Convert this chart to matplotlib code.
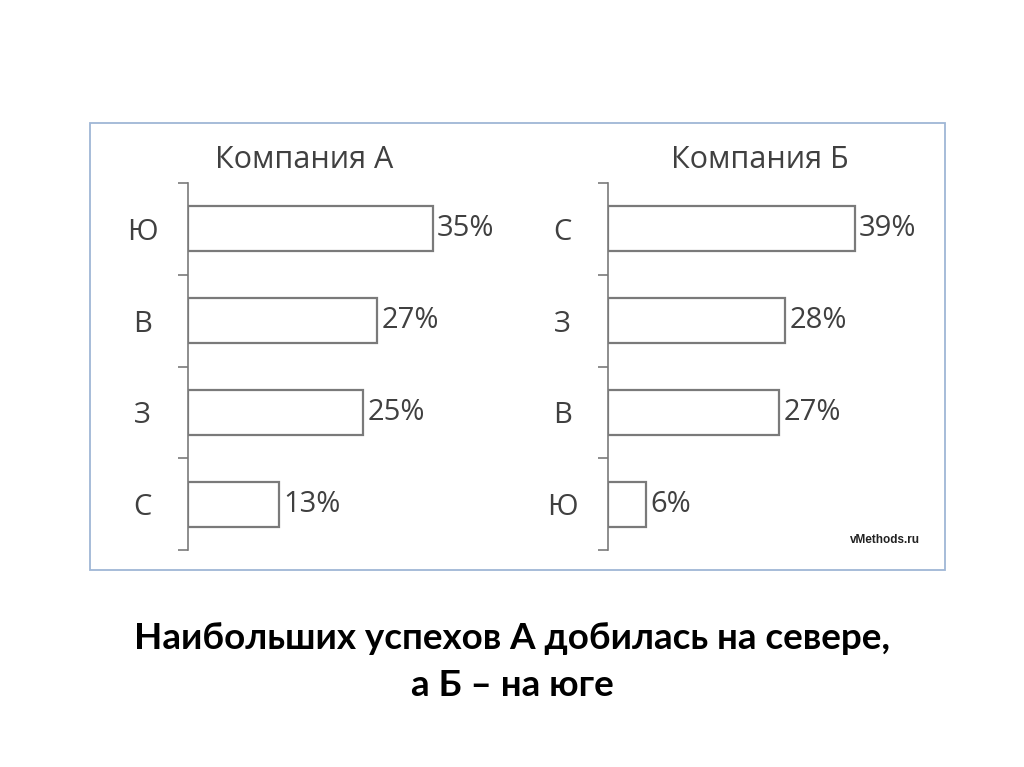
import numpy as np
import matplotlib as mpl
from matplotlib import pyplot as plt
from matplotlib.patches import Rectangle

mpl.rcParams['font.family'] = ['Open Sans', 'DejaVu Sans']

title_a = 'Компания А'
regions_a = ['Ю', 'В', 'З', 'С']
values_a = [35, 27, 25, 13]

title_b = 'Компания Б'
regions_b = ['С', 'З', 'В', 'Ю']
values_b = [39, 28, 27, 6]

caption = 'Наибольших успехов А добилась на севере,\nа Б – на юге'
source = 'vMethods.ru'

GRAY = '#7a7a7a'
TEXT = '#404040'

fig = plt.figure(figsize=(10.24, 7.67), dpi=100)
W, H = 1024, 767


def panel(left_px, width_px, xmax, labels, values, title, title_x):
	ax = fig.add_axes([left_px / W, 1 - 550 / H, width_px / W, 367 / H])
	y = np.arange(len(labels))
	bars = ax.barh(y, values, height=0.49, color='white', edgecolor=GRAY, linewidth=1.6)
	ax.bar_label(bars, labels=[f'{v}%' for v in values], padding=3,
				 fontsize=21, color=TEXT)
	ax.set_xlim(0, xmax)
	ax.set_ylim(len(labels) - 0.5, -0.5)
	ax.set_yticks(y)
	ax.set_yticklabels(labels, fontsize=21, color=TEXT, ha='center')
	ax.tick_params(axis='y', which='major', length=0, pad=33)
	ax.set_yticks(np.arange(len(labels) + 1) - 0.5, minor=True)
	ax.tick_params(axis='y', which='minor', length=7, width=1.2, color=GRAY)
	ax.set_xticks([])
	for s in ('top', 'right', 'bottom'):
		ax.spines[s].set_visible(False)
	ax.spines['left'].set_color(GRAY)
	ax.spines['left'].set_linewidth(1.2)
	ax.set_title(title, fontsize=22, color=TEXT, pad=11, x=title_x)
	return ax


panel(188, 315, 45, regions_a, values_a, title_a, 0.37)
panel(608, 304, 48, regions_b, values_b, title_b, 0.5)

fig.add_artist(Rectangle((90 / W, 1 - 570 / H), 855 / W, 447 / H,
						 transform=fig.transFigure, fill=False,
						 edgecolor='#9fb6d6', linewidth=1.3))

fig.text(920 / W, 1 - 540 / H, source, ha='right', va='center', fontsize=8.5,
		 fontweight='bold', family='Liberation Sans', color='#222222')

fig.text(0.5, 1 - 662 / H, caption, ha='center', va='center', fontsize=26.5,
		 fontweight='bold', family='Lato', linespacing=1.5)

plt.savefig('out.png', dpi=100)
